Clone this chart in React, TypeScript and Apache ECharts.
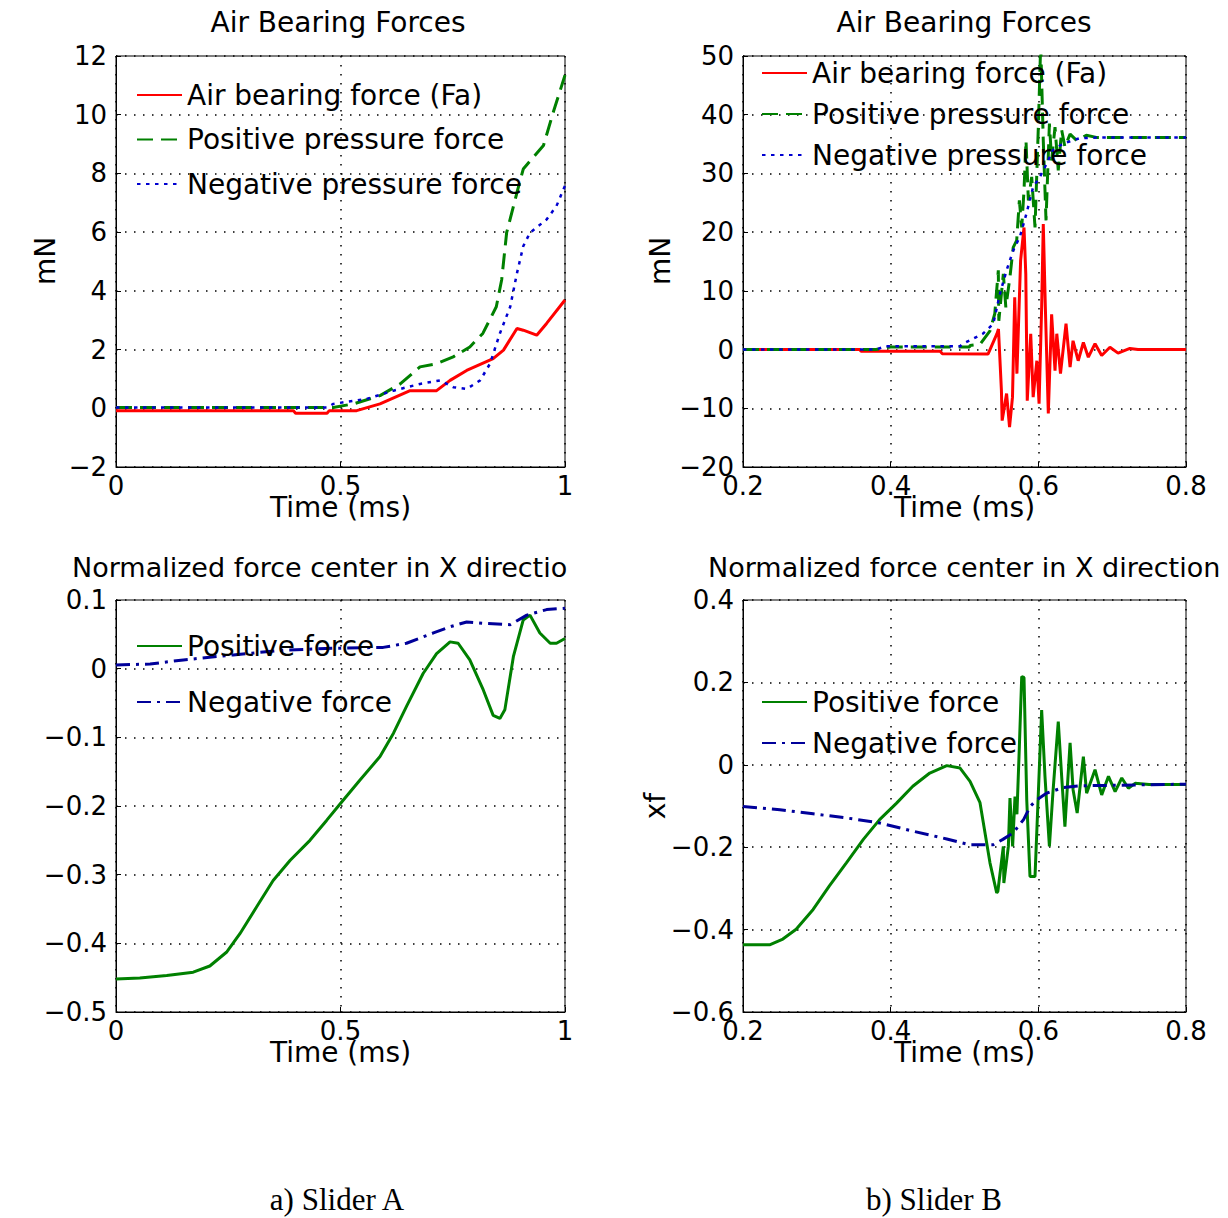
import React, { useEffect, useRef } from "react";
import * as echarts from "echarts";

// ---------- text ----------
const topTitle = "Air Bearing Forces";
const bottomTitleA = "Normalized force center in X directio";
const bottomTitleB = "Normalized force center in X direction";
const timeLabel = "Time (ms)";
const forceUnit = "mN";
const centerUnit = "xf";
const captions = ["a) Slider A", "b) Slider B"];
const forceNames = ["Air bearing force (Fa)", "Positive pressure force", "Negative pressure force"];
const centerNames = ["Positive force", "Negative force"];

// ---------- data: Slider A, forces (time ms, mN) ----------
const airA: [number, number][] = [
  [0, -0.08], [0.395, -0.08], [0.4, -0.17], [0.47, -0.17], [0.475, -0.08], [0.536, -0.08],
  [0.588, 0.15], [0.655, 0.6], [0.714, 0.6], [0.744, 0.95], [0.781, 1.29], [0.84, 1.69],
  [0.863, 1.98], [0.893, 2.72], [0.907, 2.66], [0.937, 2.49], [0.959, 2.89], [1.0, 3.69],
];
const posA: [number, number][] = [
  [0, 0.03], [0.484, 0.03], [0.529, 0.15], [0.588, 0.43], [0.633, 0.83], [0.677, 1.41],
  [0.714, 1.52], [0.751, 1.75], [0.788, 2.09], [0.817, 2.55], [0.847, 3.46], [0.859, 4.38],
  [0.87, 5.98], [0.893, 7.35], [0.907, 8.15], [0.952, 8.95], [0.974, 10.09], [1.0, 11.35],
];
const negA: [number, number][] = [
  [0, 0.03], [0.47, 0.03], [0.484, 0.15], [0.558, 0.32], [0.618, 0.6], [0.677, 0.83],
  [0.722, 0.95], [0.751, 0.72], [0.781, 0.66], [0.811, 0.95], [0.833, 1.52], [0.855, 2.55],
  [0.878, 3.46], [0.893, 4.6], [0.907, 5.52], [0.922, 5.98], [0.959, 6.43], [0.981, 6.89], [1.0, 7.58],
];

// ---------- data: Slider B, forces ----------
const airB: [number, number][] = [
  [0.2, 0], [0.358, 0], [0.36, -0.3], [0.467, -0.3], [0.47, -0.7], [0.532, -0.74],
  [0.544, 2.7], [0.546, 3.5], [0.55, -7], [0.551, -12.1], [0.557, -7.5], [0.561, -13.2],
  [0.565, -8.1], [0.568, 8.9], [0.571, -4.1], [0.576, 15.2], [0.5806, 20.8], [0.583, 12.9],
  [0.585, -8.7], [0.5897, 2.7], [0.593, -8.1], [0.598, -1.9], [0.601, -9.2], [0.6045, 7.2],
  [0.6067, 21.4], [0.6095, 7.2], [0.6135, -10.9], [0.618, 6.0], [0.6226, -3.6], [0.625, 2.7],
  [0.63, -4.1], [0.6375, 4.4], [0.643, -3.0], [0.647, 1.5], [0.654, -1.9], [0.661, 1.2],
  [0.6677, -1.3], [0.6768, 1.0], [0.6858, -1.0], [0.697, 0.4], [0.708, -0.6], [0.724, 0.2],
  [0.735, 0], [0.8, 0],
];
const posB: [number, number][] = [
  [0.2, 0], [0.38, 0], [0.4, 0.45], [0.507, 0.45], [0.5075, 0.7], [0.521, 0.9], [0.5345, 3.2],
  [0.541, 6.1], [0.5458, 13.5], [0.5465, 4.9], [0.5526, 12.9], [0.556, 7.2], [0.5616, 12.4],
  [0.566, 17.4], [0.5707, 18.6], [0.5743, 25.4], [0.5775, 20.8], [0.5806, 27.1], [0.5833, 35.6],
  [0.5865, 25.4], [0.591, 29.4], [0.5955, 20.8], [0.6, 37.9], [0.6032, 52], [0.6067, 35.6],
  [0.6104, 22], [0.615, 38.5], [0.618, 32.2], [0.6226, 37.9], [0.627, 30.5], [0.6316, 37.4],
  [0.636, 34.5], [0.643, 36.7], [0.652, 35.6], [0.665, 36.5], [0.68, 36.1], [0.8, 36.1],
];
const negB: [number, number][] = [
  [0.2, 0], [0.38, 0], [0.393, 0.57], [0.494, 0.57], [0.498, 1.0], [0.525, 2.7], [0.539, 4.4],
  [0.548, 9.5], [0.557, 13.5], [0.566, 16.9], [0.575, 19.2], [0.584, 23.2], [0.593, 27.7],
  [0.602, 29.4], [0.609, 31.1], [0.62, 34], [0.634, 35.1], [0.656, 36], [0.679, 36.1], [0.8, 36.1],
];

// ---------- data: Slider A, normalized force center ----------
const posCenterA: [number, number][] = [
  [0, -0.452], [0.053, -0.4506], [0.113, -0.447], [0.172, -0.442], [0.209, -0.433], [0.246, -0.413],
  [0.276, -0.386], [0.313, -0.347], [0.35, -0.3085], [0.388, -0.279], [0.432, -0.25], [0.469, -0.221],
  [0.499, -0.197], [0.543, -0.1625], [0.588, -0.128], [0.618, -0.094], [0.647, -0.055], [0.684, -0.007],
  [0.714, 0.022], [0.744, 0.039], [0.762, 0.037], [0.788, 0.0127], [0.818, -0.031], [0.84, -0.068],
  [0.855, -0.0725], [0.866, -0.06], [0.885, 0.0175], [0.907, 0.071], [0.922, 0.078], [0.944, 0.052],
  [0.967, 0.037], [0.981, 0.037], [1.0, 0.044],
];
const negCenterA: [number, number][] = [
  [0, 0.0054], [0.076, 0.0068], [0.15, 0.0127], [0.261, 0.02], [0.373, 0.027], [0.484, 0.0297],
  [0.595, 0.031], [0.647, 0.037], [0.707, 0.052], [0.744, 0.061], [0.781, 0.068], [0.818, 0.066],
  [0.878, 0.064], [0.915, 0.078], [0.959, 0.086], [1.0, 0.088],
];

// ---------- data: Slider B, normalized force center ----------
const posCenterB: [number, number][] = [
  [0.2, -0.437], [0.236, -0.437], [0.254, -0.423], [0.272, -0.399], [0.295, -0.351], [0.317, -0.294],
  [0.34, -0.238], [0.363, -0.181], [0.385, -0.133], [0.408, -0.093], [0.43, -0.052], [0.453, -0.02],
  [0.476, -0.002], [0.494, -0.008], [0.5075, -0.04], [0.521, -0.092], [0.5345, -0.238], [0.5436, -0.311],
  [0.5452, -0.307], [0.5526, -0.198], [0.5533, -0.287], [0.5594, -0.198], [0.5616, -0.081], [0.5652, -0.198],
  [0.5684, -0.077], [0.571, -0.12], [0.5743, 0.044], [0.5775, 0.214], [0.5806, 0.212], [0.5843, -0.085],
  [0.5887, -0.271], [0.5955, -0.271], [0.6, -0.069], [0.6045, 0.133], [0.609, -0.028], [0.615, -0.198],
  [0.6197, -0.069], [0.627, 0.105], [0.6316, -0.028], [0.636, -0.15], [0.643, 0.053], [0.6471, -0.061],
  [0.6526, -0.117], [0.661, 0.02], [0.6654, -0.069], [0.6768, -0.012], [0.6858, -0.073], [0.695, -0.028],
  [0.704, -0.065], [0.713, -0.032], [0.722, -0.057], [0.731, -0.045], [0.75, -0.048], [0.8, -0.048],
];
const negCenterB: [number, number][] = [
  [0.2, -0.101], [0.25, -0.109], [0.295, -0.119], [0.34, -0.129], [0.385, -0.141], [0.43, -0.161],
  [0.476, -0.18], [0.507, -0.194], [0.539, -0.194], [0.552, -0.181], [0.566, -0.165], [0.58, -0.133],
  [0.589, -0.101], [0.598, -0.085], [0.611, -0.069], [0.634, -0.055], [0.656, -0.051], [0.8, -0.047],
];

const FONT = "DejaVu Sans";
const SERIF = "Liberation Serif";
const RED = "#ff0000";
const GREEN = "#008000";
const BLUE = "#0000d0";
const NAVY = "#00009a";

const fmt = (v: number) => {
  const r = Math.round(v * 1000) / 1000;
  return (r < 0 ? "\u2212" : "") + String(Math.abs(r));
};

const gridLine = { show: true, lineStyle: { color: "#000", width: 1.5, type: [1.5, 7.5] as number[] } };

function mkX(gi: number, min: number, max: number, interval: number) {
  return {
    type: "value", gridIndex: gi, min, max, interval,
    name: timeLabel, nameLocation: "middle", nameGap: 26, nameMoveOverlap: false,
    nameTextStyle: { fontFamily: FONT, fontSize: 28, color: "#000" },
    axisLine: { show: true, onZero: false, lineStyle: { color: "#000", width: 1 } },
    axisTick: { show: true, inside: true, length: 5, lineStyle: { color: "#000" } },
    axisLabel: { color: "#000", fontFamily: FONT, fontSize: 26, margin: 6, formatter: fmt },
    splitLine: gridLine,
  };
}
function mkY(gi: number, min: number, max: number, interval: number) {
  return {
    type: "value", gridIndex: gi, min, max, interval,
    axisLine: { show: true, onZero: false, lineStyle: { color: "#000", width: 1 } },
    axisTick: { show: true, inside: true, length: 5, lineStyle: { color: "#000" } },
    axisLabel: { color: "#000", fontFamily: FONT, fontSize: 26, margin: 9, formatter: fmt },
    splitLine: gridLine,
  };
}
function mkSeries(name: string, idx: number, data: [number, number][], color: string, width: number, dash: any) {
  return {
    type: "line", name, xAxisIndex: idx, yAxisIndex: idx, data,
    symbol: "none", showSymbol: false, clip: true, z: 3,
    lineStyle: { color, width, type: dash },
    itemStyle: { color },
  };
}
function mkLegend(names: string[], left: number, top: number, gap: number) {
  return {
    orient: "vertical", left, top, padding: 0, itemGap: gap,
    itemWidth: 45, itemHeight: 14, selectedMode: false, data: names,
    itemStyle: { opacity: 0 },
    textStyle: { fontFamily: FONT, fontSize: 28, color: "#000", lineHeight: 28 },
  };
}
function txt(text: string, x: number, y: number, size: number, align: string, family = FONT, rotation = 0) {
  return {
    type: "text", x, y, rotation, silent: true,
    style: { text, fontSize: size, fontFamily: family, fill: "#000", align, verticalAlign: "middle" },
  };
}

const DASH = [16, 8];
const DOT = [3.5, 5.5];
const DASHDOT = [14, 6, 3, 6];

export default function App() {
  const ref = useRef<HTMLDivElement>(null);
  useEffect(() => {
    document.body.style.margin = "0";
    const chart = echarts.init(ref.current!, undefined, { renderer: "svg" });
    const box = { show: true, borderColor: "#000", borderWidth: 1, backgroundColor: "transparent" };
    chart.setOption({
      animation: false,
      backgroundColor: "#ffffff",
      grid: [
        { ...box, left: 116, top: 56, width: 449, height: 411 },
        { ...box, left: 743, top: 56, width: 443, height: 411 },
        { ...box, left: 116, top: 600, width: 449, height: 412 },
        { ...box, left: 743, top: 600, width: 443, height: 412 },
      ],
      xAxis: [mkX(0, 0, 1, 0.5), mkX(1, 0.2, 0.8, 0.2), mkX(2, 0, 1, 0.5), mkX(3, 0.2, 0.8, 0.2)],
      yAxis: [mkY(0, -2, 12, 2), mkY(1, -20, 50, 10), mkY(2, -0.5, 0.1, 0.1), mkY(3, -0.6, 0.4, 0.2)],
      legend: [
        mkLegend(forceNames, 136, 81, 16.5),
        mkLegend(forceNames, 761, 59, 13),
        mkLegend(centerNames, 136, 632, 28),
        mkLegend(centerNames, 761, 688, 13),
      ],
      series: [
        mkSeries(forceNames[0], 0, airA, RED, 3, "solid"),
        mkSeries(forceNames[1], 0, posA, GREEN, 3, DASH),
        mkSeries(forceNames[2], 0, negA, BLUE, 2.5, DOT),
        mkSeries(forceNames[0], 1, airB, RED, 3, "solid"),
        mkSeries(forceNames[1], 1, posB, GREEN, 3, DASH),
        mkSeries(forceNames[2], 1, negB, BLUE, 2.5, DOT),
        mkSeries(centerNames[0], 2, posCenterA, GREEN, 3, "solid"),
        mkSeries(centerNames[1], 2, negCenterA, NAVY, 3, DASHDOT),
        mkSeries(centerNames[0], 3, posCenterB, GREEN, 3, "solid"),
        mkSeries(centerNames[1], 3, negCenterB, NAVY, 3, DASHDOT),
      ],
      graphic: [
        txt(topTitle, 338, 22, 28, "center"),
        txt(topTitle, 964, 22, 28, "center"),
        txt(bottomTitleA, 72, 567, 27, "left"),
        txt(bottomTitleB, 708, 567, 27, "left"),
        txt(forceUnit, 45, 261, 28, "center", FONT, Math.PI / 2),
        txt(forceUnit, 660, 261, 28, "center", FONT, Math.PI / 2),
        txt(centerUnit, 655, 806, 28, "center", FONT, Math.PI / 2),
        txt(captions[0], 337, 1199, 31, "center", SERIF),
        txt(captions[1], 934, 1199, 31, "center", SERIF),
      ],
    });
    return () => chart.dispose();
  }, []);
  return <div ref={ref} style={{ width: 1228, height: 1218 }} />;
}
